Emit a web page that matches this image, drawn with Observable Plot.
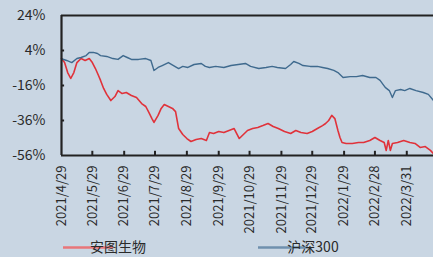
<!DOCTYPE html>
<html>
<head>
<meta charset="utf-8">
<script src="https://cdn.jsdelivr.net/npm/d3@7"></script>
<script src="https://cdn.jsdelivr.net/npm/@observablehq/plot@0.6"></script>
<style>
  html, body { margin: 0; padding: 0; background: #c9d6e3; }
  #chart { position: relative; width: 433px; height: 257px; overflow: hidden; }
  svg { font-family: "Noto Sans CJK SC", "Noto Sans", sans-serif; }
</style>
</head>
<body>
<div id="chart"></div>
<script>
// ---- data ----
const seriesNames = ["安图生物", "沪深300"];

const antuDates = ["2021-04-29","2021-05-02","2021-05-05","2021-05-08","2021-05-11","2021-05-14","2021-05-18","2021-05-22","2021-05-26","2021-05-29",
"2021-06-01","2021-06-04","2021-06-06","2021-06-09","2021-06-12","2021-06-16","2021-06-20","2021-06-23","2021-06-27","2021-07-01",
"2021-07-06","2021-07-11","2021-07-16","2021-07-20","2021-07-23","2021-07-26","2021-07-28","2021-08-01","2021-08-04","2021-08-07",
"2021-08-11","2021-08-15","2021-08-18","2021-08-21","2021-08-25","2021-08-29","2021-09-02","2021-09-07","2021-09-12","2021-09-17",
"2021-09-20","2021-09-24","2021-09-29","2021-10-04","2021-10-09","2021-10-14","2021-10-19","2021-10-23","2021-10-27","2021-11-01",
"2021-11-06","2021-11-11","2021-11-16","2021-11-21","2021-11-26","2021-12-02","2021-12-08","2021-12-13","2021-12-18","2021-12-24",
"2021-12-29","2022-01-03","2022-01-08","2022-01-11","2022-01-14","2022-01-17","2022-01-20","2022-01-23","2022-01-25","2022-01-27",
"2022-01-31","2022-02-06","2022-02-12","2022-02-17","2022-02-23","2022-02-28","2022-03-05","2022-03-09","2022-03-11","2022-03-13",
"2022-03-15","2022-03-17","2022-03-22","2022-03-28","2022-04-03","2022-04-08","2022-04-13","2022-04-18","2022-04-23","2022-04-26"];
const antuValues = [-0.6,-2.9,-8.6,-12.0,-8.6,-2.9,-0.6,-1.7,-0.6,-2.9,
-6.3,-10.3,-13.1,-17.7,-21.1,-24.6,-22.3,-18.9,-20.6,-20.0,
-21.7,-22.9,-26.3,-28.0,-31.4,-34.9,-37.1,-33.1,-29.1,-26.9,
-28.0,-29.1,-30.9,-40.6,-44.0,-46.3,-48.0,-46.9,-46.3,-47.4,
-42.9,-43.4,-42.3,-42.9,-41.7,-40.6,-46.3,-44.0,-41.7,-40.6,
-40.0,-38.9,-37.7,-39.4,-40.6,-42.3,-43.4,-41.7,-42.9,-43.4,
-42.3,-40.6,-38.9,-37.7,-36.0,-33.1,-34.9,-41.7,-45.7,-48.6,
-49.1,-49.1,-48.6,-48.6,-47.4,-45.7,-47.4,-48.6,-53.1,-47.4,
-53.1,-49.1,-48.6,-47.4,-48.6,-49.1,-51.4,-50.9,-53.1,-54.9];

const hs300Dates = ["2021-04-29","2021-05-04","2021-05-09","2021-05-14","2021-05-18","2021-05-23","2021-05-26","2021-05-30","2021-06-03","2021-06-06",
"2021-06-12","2021-06-18","2021-06-23","2021-06-28","2021-07-02","2021-07-06","2021-07-13","2021-07-20","2021-07-25","2021-07-28",
"2021-08-01","2021-08-05","2021-08-11","2021-08-16","2021-08-21","2021-08-25","2021-08-30","2021-09-05","2021-09-12","2021-09-16",
"2021-09-20","2021-09-26","2021-10-04","2021-10-11","2021-10-18","2021-10-25","2021-10-30","2021-11-07","2021-11-14","2021-11-20",
"2021-11-25","2021-12-03","2021-12-08","2021-12-11","2021-12-16","2021-12-20","2021-12-27","2022-01-03","2022-01-08","2022-01-13",
"2022-01-19","2022-01-23","2022-01-28","2022-02-04","2022-02-10","2022-02-16","2022-02-23","2022-03-01","2022-03-05","2022-03-10",
"2022-03-14","2022-03-17","2022-03-20","2022-03-25","2022-03-29","2022-04-03","2022-04-09","2022-04-16","2022-04-21","2022-04-26"];
const hs300Values = [-0.7,-1.7,-2.9,-0.6,0.0,1.1,2.9,2.9,2.3,1.1,
0.6,-0.6,-1.1,1.1,0.0,-1.1,-1.1,-0.6,-1.7,-7.4,
-5.7,-4.6,-2.9,-4.6,-6.3,-5.1,-5.7,-4.0,-3.4,-5.1,
-5.7,-5.1,-5.7,-4.6,-4.0,-3.4,-5.1,-6.3,-5.7,-5.1,
-5.7,-6.3,-4.0,-2.3,-3.4,-4.6,-5.1,-5.1,-5.7,-6.3,
-7.4,-8.6,-11.4,-10.9,-10.9,-10.3,-11.4,-11.4,-13.1,-17.1,
-18.9,-22.9,-18.9,-18.3,-18.9,-17.7,-18.9,-20.0,-21.1,-24.6];

const xTickLabels = ["2021/4/29","2021/5/29","2021/6/29","2021/7/29","2021/8/29","2021/9/29","2021/10/29","2021/11/29","2021/12/29","2022/1/29","2022/2/28","2022/3/31"];
const yTicks = [24, 4, -16, -36, -56];
const xDomain = ["2021-04-29", "2022-04-26"];
const colors = ["#e0323a", "#3f6a8e"];

// ---- build ----
const parse = d3.utcParse("%Y-%m-%d");
const parseTick = d3.utcParse("%Y/%m/%d");
const antu = antuDates.map((d, i) => ({date: parse(d), value: antuValues[i], series: seriesNames[0]}));
const hs = hs300Dates.map((d, i) => ({date: parse(d), value: hs300Values[i], series: seriesNames[1]}));
const xTicks = xTickLabels.map(s => parseTick(s));
const fmt = d => `${d.getUTCFullYear()}/${d.getUTCMonth() + 1}/${d.getUTCDate()}`;
const x0 = parse(xDomain[0]);
const x1 = parse(xDomain[1]);
const innerTicksY = yTicks.slice(1, -1);

const plot = Plot.plot({
  width: 433,
  height: 257,
  marginLeft: 61,
  marginRight: 0,
  marginTop: 15,
  marginBottom: 102,
  style: {background: "#c9d6e3", fontFamily: "'Noto Sans CJK SC', 'Noto Sans', sans-serif"},
  x: {type: "utc", domain: [x0, x1]},
  y: {domain: [yTicks[yTicks.length - 1], yTicks[0]]},
  marks: [
    Plot.axisY({ticks: yTicks, tickFormat: d => d + "%", tickSize: 0, tickPadding: 16, fontSize: 14, fill: "#2a2a2a", label: null}),
    Plot.axisX({ticks: xTicks, tickFormat: fmt, tickRotate: -90, tickSize: 0, tickPadding: 10, fontSize: 13, fill: "#2a2a2a", label: null}),
    Plot.line(antu, {x: "date", y: "value", stroke: colors[0], strokeWidth: 1.6}),
    Plot.line(hs, {x: "date", y: "value", stroke: colors[1], strokeWidth: 1.4}),
    Plot.ruleX(xTicks.slice(1), {x: d => d, y1: yTicks[yTicks.length - 1], y2: yTicks[yTicks.length - 1] + 2.4, stroke: "#222", strokeWidth: 2}),
    Plot.ruleY(innerTicksY, {y: d => d, x1: x0, x2: d3.utcDay.offset(x0, 3), stroke: "#222", strokeWidth: 2}),
    Plot.ruleY([yTicks[0], yTicks[yTicks.length - 1]], {stroke: "#222", strokeWidth: 2.2}),
    Plot.ruleX([x0], {stroke: "#222", strokeWidth: 2.2})
  ]
});

document.getElementById("chart").appendChild(plot);

// legend (overlaps the bottom of the tick labels, as in the original)
const svg = d3.select(plot);
const legendItems = [
  {name: seriesNames[0], color: "#e8767a", x: 63},
  {name: seriesNames[1], color: "#6f90ae", x: 258}
];
const lg = svg.append("g").attr("font-size", 14).attr("fill", "#2a2a2a");
legendItems.forEach(it => {
  lg.append("line").attr("x1", it.x).attr("x2", it.x + 50).attr("y1", 247.5).attr("y2", 247.5)
    .attr("stroke", it.color).attr("stroke-width", 2.4);
  lg.append("text").attr("x", it.x + 55).attr("y", 247).attr("dy", "0.36em").text(it.name);
});
</script>
</body>
</html>
